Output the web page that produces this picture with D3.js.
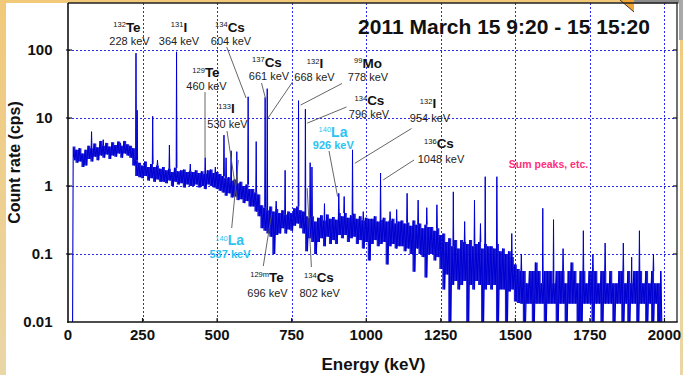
<!DOCTYPE html>
<html>
<head>
<meta charset="utf-8">
<script src="https://cdn.jsdelivr.net/npm/d3@7"></script>
<style>
  html, body { margin: 0; padding: 0; background: #fff; }
  svg { display: block; font-family: "Liberation Sans", Arial, Helvetica, sans-serif; }
</style>
</head>
<body>
<svg id="chart" width="683" height="375"></svg>
<script>
// ---- Gamma-ray spectrum, 2011 March 15 9:20 - 15 15:20 ----

// continuum, stored as per-bin max / min count rate (cps)
const binStart = 20;   // keV, centre of first bin
const binWidth = 10;   // keV per bin
const contHigh = [
  3.8, 3.4, 3.6, 3.0, 3.4, 3.9, 3.6, 4.2, 3.7, 4.6,
  3.9, 4.3, 3.8, 4.4, 4.0, 4.5, 3.9, 4.6, 4.1, 3.9,
  3.6, 2.4, 2.2, 2.0, 2.3, 1.9, 2.1, 1.9, 2.0, 1.8,
  1.9, 1.7, 1.8, 1.6, 1.85, 1.65, 1.7, 1.75, 1.6, 1.65,
  1.6, 1.7, 1.55, 1.65, 1.5, 1.7, 1.75, 1.55, 1.6, 1.5,
  1.4, 1.3, 1.35, 1.2, 1.25, 1.1, 1.15, 1.0, 1.05, 0.9,
  0.9, 0.8, 0.75, 0.52, 0.48, 0.44, 0.5, 0.42, 0.46, 0.4,
  0.44, 0.38, 0.42, 0.4, 0.47, 0.5, 0.44, 0.42, 0.36, 0.34,
  0.36, 0.3, 0.34, 0.37, 0.31, 0.38, 0.33, 0.35, 0.32, 0.4,
  0.36, 0.4, 0.34, 0.37, 0.39, 0.33, 0.36, 0.31, 0.34, 0.33,
  0.33, 0.36, 0.3, 0.32, 0.34, 0.3, 0.31, 0.33, 0.28, 0.3,
  0.31, 0.28, 0.29, 0.26, 0.31, 0.27, 0.28, 0.24, 0.27, 0.25,
  0.25, 0.22, 0.24, 0.19, 0.2, 0.15, 0.17, 0.13, 0.16, 0.12,
  0.16, 0.15, 0.14, 0.16, 0.13, 0.14, 0.15, 0.12, 0.14, 0.13,
  0.13, 0.12, 0.14, 0.11, 0.12, 0.1, 0.11, 0.09, 0.07, 0.06,
  0.056, 0.056, 0.037, 0.056, 0.056, 0.075, 0.056, 0.037, 0.056, 0.056,
  0.056, 0.037, 0.056, 0.056, 0.056, 0.037, 0.056, 0.075, 0.056, 0.037,
  0.056, 0.056, 0.037, 0.056, 0.056, 0.056, 0.037, 0.056, 0.056, 0.037,
  0.056, 0.037, 0.037, 0.056, 0.056, 0.037, 0.056, 0.037, 0.056, 0.056,
  0.056, 0.037, 0.056, 0.037, 0.056, 0.037, 0.037, 0.056
];
const contLow = [
  2.4, 2.2, 2.3, 1.9, 2.0, 2.5, 2.3, 2.7, 2.4, 2.8,
  2.6, 2.9, 2.5, 2.8, 2.7, 3.0, 2.6, 3.0, 2.8, 2.6,
  2.0, 1.4, 1.35, 1.3, 1.4, 1.2, 1.3, 1.15, 1.25, 1.15,
  1.15, 1.1, 1.2, 1.0, 1.15, 1.05, 1.1, 0.95, 1.05, 1.0,
  1.0, 1.05, 0.95, 1.0, 0.9, 1.05, 1.0, 0.95, 0.9, 0.85,
  0.8, 0.72, 0.78, 0.68, 0.7, 0.62, 0.64, 0.56, 0.6, 0.5,
  0.5, 0.42, 0.36, 0.24, 0.22, 0.2, 0.18, 0.1, 0.19, 0.2,
  0.24, 0.2, 0.23, 0.22, 0.26, 0.28, 0.24, 0.2, 0.11, 0.17,
  0.15, 0.1, 0.15, 0.17, 0.13, 0.18, 0.14, 0.16, 0.14, 0.19,
  0.17, 0.19, 0.15, 0.17, 0.18, 0.14, 0.16, 0.12, 0.15, 0.08,
  0.14, 0.16, 0.13, 0.14, 0.15, 0.07, 0.13, 0.14, 0.12, 0.13,
  0.13, 0.11, 0.12, 0.1, 0.055, 0.12, 0.1, 0.09, 0.045, 0.1,
  0.1, 0.08, 0.09, 0.06, 0.03, 0.05, 0.005, 0.035, 0.04, 0.03,
  0.035, 0.04, 0.005, 0.035, 0.03, 0.04, 0.035, 0.005, 0.03, 0.035,
  0.03, 0.035, 0.005, 0.03, 0.03, 0.005, 0.028, 0.03, 0.02, 0.019,
  0.0185, 0.005, 0.0185, 0.0185, 0.005, 0.0185, 0.0185, 0.0185, 0.005, 0.0185,
  0.0185, 0.0185, 0.005, 0.0185, 0.0185, 0.005, 0.0185, 0.0185, 0.0185, 0.005,
  0.005, 0.0185, 0.0185, 0.0185, 0.005, 0.0185, 0.0185, 0.005, 0.0185, 0.0185,
  0.0185, 0.005, 0.0185, 0.0185, 0.005, 0.0185, 0.005, 0.0185, 0.0185, 0.005,
  0.0185, 0.0185, 0.005, 0.0185, 0.005, 0.0185, 0.005, 0.005
];

// photo-peaks and sum peaks: energy (keV) and peak count rate (cps)
const peakEnergy = [79, 118, 176, 228, 232, 284, 300, 340, 364, 410, 460, 494, 523, 530, 547, 566,
  604, 631, 661, 668, 698, 728, 773, 796, 812, 818, 860, 908, 926, 954, 990, 1048, 1080,
  1102, 1137, 1174, 1203, 1237, 1292, 1330, 1363, 1383, 1399, 1438, 1488, 1520, 1592,
  1628, 1660, 1728, 1760, 1801, 1862, 1890, 1916, 1963];
const peakRate = [6.3, 4.8, 4.3, 90, 13, 10.6, 2.4, 4.0, 94, 2.1, 2.6, 1.9, 5.6, 2.6, 3.3, 3.2,
  20.5, 4.5, 20, 27, 0.6, 1.7, 18, 13.5, 2.2, 1.9, 0.55, 0.78, 0.7, 3.4, 0.42, 1.55, 0.42,
  0.45, 0.78, 0.62, 0.48, 0.53, 0.82, 0.3, 0.62, 0.28, 1.37, 1.37, 0.2, 0.1, 0.47,
  0.32, 0.12, 0.22, 0.1, 0.145, 0.145, 0.09, 0.22, 0.1];

// axes
const xTicks = [0, 250, 500, 750, 1000, 1250, 1500, 1750, 2000];
const yTicks = [0.01, 0.1, 1, 10, 100];
const yTickLabels = ["0.01", "0.1", "1", "10", "100"];

// nuclide annotations
const labelMass    = ["132", "131", "134", "129", "133", "137", "132", "99", "134", "140", "132", "136", "140", "129m", "134"];
const labelElement = ["Te", "I", "Cs", "Te", "I", "Cs", "I", "Mo", "Cs", "La", "I", "Cs", "La", "Te", "Cs"];
const labelEnergy  = [228, 364, 604, 460, 530, 661, 668, 778, 796, 926, 954, 1048, 537, 696, 802];
const labelIsLa    = [false, false, false, false, false, false, false, false, false, true, false, false, true, false, false];
// where each leader line ends (keV, cps)
const leaderEnergy = [null, null, 597, 459.5, 568, 663, 670, 780, 802, 904, 962, 1057, 571, 683, 802];
const leaderRate   = [null, null, 19.7, 2.58, 0.62, 18.8, 9.9, 15.5, 8.4, 0.7, 2.16, 1.23, 2.41, 0.4, 0.93];

// annotation placement (px)
const labelLayout = [
  { nx: 127,   ny: 31.5,  ex: 129.5, ey: 45 },
  { nx: 179,   ny: 31.5,  ex: 179,   ey: 45 },
  { nx: 230,   ny: 31.5,  ex: 231,   ey: 45,    lx: 226.7, ly: 47 },
  { nx: 206,   ny: 77,    ex: 206.5, ey: 90,    lx: 205,   ly: 92 },
  { nx: 226.5, ny: 113,   ex: 227.5, ey: 128,   lx: 227,   ly: 131 },
  { nx: 267,   ny: 66.5,  ex: 269,   ey: 80,    lx: 261.5, ly: 83 },
  { nx: 315,   ny: 68,    ex: 314.5, ey: 80.5,  lx: 292.5, ly: 82 },
  { nx: 368,   ny: 67.5,  ex: 368,   ey: 80.5,  lx: 342,   ly: 83.5 },
  { nx: 369.5, ny: 105,   ex: 369,   ey: 118,   lx: 346.5, ly: 107 },
  { nx: 333,   ny: 136.5, ex: 333.3, ey: 149,   lx: 329,   ly: 151 },
  { nx: 428,   ny: 108,   ex: 430,   ey: 122,   lx: 411.5, ly: 128.5 },
  { nx: 439,   ny: 148,   ex: 441,   ey: 163,   lx: 414,   ly: 160 },
  { nx: 229.7, ny: 245,   ex: 230,   ey: 258,   lx: 231.7, ly: 228 },
  { nx: 267,   ny: 281.5, ex: 267.5, ey: 296.5, lx: 263.3, ly: 266 },
  { nx: 319,   ny: 282,   ex: 319.7, ey: 297,   lx: 311.4, ly: 267 }
];

// ---- drawing ----
const svg = d3.select("#chart");
const W = 683, H = 375;
const plot = { left: 68, right: 677, top: 3, bottom: 322 };

const x = d3.scaleLinear().domain([0, 2042]).range([plot.left, plot.right]);
const y = d3.scaleLog().domain([0.01, 491]).range([plot.bottom, plot.top]);

const defs = svg.append("defs");
const bg = defs.append("linearGradient").attr("id", "slideBg")
  .attr("x1", 0).attr("y1", 0).attr("x2", 0).attr("y2", 1);
bg.append("stop").attr("offset", "0%").attr("stop-color", "#f1c979");
bg.append("stop").attr("offset", "100%").attr("stop-color", "#ead6a6");
defs.append("clipPath").attr("id", "plotClip").append("rect")
  .attr("x", plot.left).attr("y", plot.top)
  .attr("width", plot.right - plot.left).attr("height", plot.bottom - plot.top);

// slide background and white panel
svg.append("rect").attr("width", W).attr("height", H).attr("fill", "url(#slideBg)");
svg.append("rect").attr("x", 6).attr("y", 3).attr("width", 674).attr("height", H - 3).attr("fill", "#fff");
svg.append("rect").attr("x", 633).attr("y", 0).attr("width", 50).attr("height", 3.5).attr("fill", "#8c8c8c");
svg.append("rect").attr("x", 679).attr("y", 0).attr("width", 4).attr("height", 40).attr("fill", "#a8a8a8");
svg.append("path").attr("d", "M620,0 L634,0 L634,12 Z").attr("fill", "#f2a534");
svg.append("path").attr("d", "M620,0 L634,12").attr("stroke", "#3a3a3a").attr("stroke-width", 1).attr("fill", "none");

// grid
const grid = svg.append("g").attr("stroke", "#2a2aee").attr("stroke-width", 1)
  .attr("stroke-dasharray", "2,2").attr("fill", "none");
grid.selectAll("line.vx").data(xTicks.filter(d => d > 0)).join("line")
  .attr("x1", d => Math.round(x(d)) + 0.5).attr("x2", d => Math.round(x(d)) + 0.5)
  .attr("y1", plot.top).attr("y2", plot.bottom);
grid.selectAll("line.hy").data(yTicks.filter(d => d > 0.01)).join("line")
  .attr("y1", d => Math.round(y(d)) + 0.5).attr("y2", d => Math.round(y(d)) + 0.5)
  .attr("x1", plot.left).attr("x2", plot.right);

// spectrum: dense core band, ragged min/max trace, then peaks
const spec = svg.append("g").attr("clip-path", "url(#plotClip)");
const bins = contHigh.map((h, i) => ({ e: binStart + i * binWidth, hi: h, lo: contLow[i] }));

const band = d3.area()
  .x(d => x(d.e)).y0(d => y(d.lo)).y1(d => y(d.hi))
  .curve(d3.curveStep);
spec.append("path").attr("d", band(bins))
  .attr("fill", "#0000d2").attr("fill-opacity", 0.88).attr("stroke", "none");

const pts = [[15, 0.004]];
bins.forEach(b => {
  pts.push([b.e - 2.5, b.hi]);
  pts.push([b.e + 2.5, b.lo]);
});
pts.push([1995, 0.004]);
const line = d3.line().x(d => x(d[0])).y(d => y(d[1]));
spec.append("path").attr("d", line(pts))
  .attr("fill", "none").attr("stroke", "#0000d2").attr("stroke-width", 1.1)
  .attr("stroke-linejoin", "miter");

const baseAt = e => {
  const i = Math.max(0, Math.min(bins.length - 1, Math.round((e - binStart) / binWidth)));
  return bins[i].hi;
};
spec.selectAll("path.peak").data(peakEnergy).join("path")
  .attr("class", "peak")
  .attr("d", (e, i) => line([[e - 1.3, baseAt(e)], [e, peakRate[i]], [e + 1.3, baseAt(e)]]))
  .attr("fill", "#0000d2").attr("stroke", "#0000d2").attr("stroke-width", 1);

// frame
const frame = svg.append("g").attr("fill", "none");
frame.append("line").attr("x1", plot.left).attr("x2", plot.right + 1).attr("y1", plot.top).attr("y2", plot.top)
  .attr("stroke", "#222").attr("stroke-width", 1.6);
frame.append("line").attr("x1", plot.right).attr("x2", plot.right).attr("y1", plot.top).attr("y2", plot.bottom)
  .attr("stroke", "#333").attr("stroke-width", 1.4);
frame.append("line").attr("x1", plot.left).attr("x2", plot.left).attr("y1", plot.top).attr("y2", plot.bottom + 0.8)
  .attr("stroke", "#111").attr("stroke-width", 1.6);
frame.append("line").attr("x1", plot.left - 0.8).attr("x2", plot.right + 0.7).attr("y1", plot.bottom).attr("y2", plot.bottom)
  .attr("stroke", "#111").attr("stroke-width", 1.6);

// ticks
const tickG = svg.append("g").attr("stroke", "#111").attr("stroke-width", 1.2);
tickG.selectAll("line.yl").data(yTicks.filter(d => d > 0.01)).join("line")
  .attr("x1", plot.left - 2).attr("x2", plot.left + 4)
  .attr("y1", d => y(d)).attr("y2", d => y(d));
tickG.selectAll("line.yr").data(yTicks.filter(d => d > 0.01)).join("line")
  .attr("x1", plot.right - 4).attr("x2", plot.right)
  .attr("y1", d => y(d)).attr("y2", d => y(d));
tickG.selectAll("line.xb").data(xTicks.filter(d => d > 0)).join("line")
  .attr("x1", d => x(d)).attr("x2", d => x(d))
  .attr("y1", plot.bottom - 4).attr("y2", plot.bottom);

// tick labels
svg.append("g").selectAll("text").data(yTicks).join("text")
  .attr("x", 52.5).attr("y", d => y(d) + 5.4)
  .attr("text-anchor", "end").attr("font-size", 15).attr("font-weight", "bold").attr("fill", "#111")
  .text((d, i) => yTickLabels[i]);
svg.append("g").selectAll("text").data(xTicks).join("text")
  .attr("x", d => x(d)).attr("y", 340)
  .attr("text-anchor", "middle").attr("font-size", 15).attr("font-weight", "bold").attr("fill", "#111")
  .text(d => d);

// axis titles
svg.append("text").attr("transform", "translate(20,162.5) rotate(-90)")
  .attr("text-anchor", "middle").attr("font-size", 16).attr("font-weight", "bold").attr("fill", "#111")
  .text("Count rate (cps)");
svg.append("text").attr("x", 373.5).attr("y", 370)
  .attr("text-anchor", "middle").attr("font-size", 17).attr("font-weight", "bold").attr("fill", "#111")
  .text("Energy (keV)");

// title
svg.append("text").attr("x", 504).attr("y", 34)
  .attr("text-anchor", "middle").attr("font-size", 21).attr("font-weight", "bold").attr("fill", "#111")
  .text("2011 March 15 9:20 - 15 15:20");

// nuclide annotations
const ann = svg.append("g");
labelLayout.forEach((L, i) => {
  const color = labelIsLa[i] ? "#2cc3f3" : "#111";
  if (leaderEnergy[i] !== null) {
    ann.append("line")
      .attr("x1", L.lx).attr("y1", L.ly)
      .attr("x2", x(leaderEnergy[i])).attr("y2", y(leaderRate[i]))
      .attr("stroke", "#555").attr("stroke-width", 0.9);
  }
  const t = ann.append("text").attr("x", L.nx).attr("y", L.ny)
    .attr("text-anchor", "middle").attr("fill", color);
  t.append("tspan").attr("font-size", 7.5).attr("dy", -4.5).text(labelMass[i]);
  t.append("tspan").attr("font-size", labelIsLa[i] ? 14 : 13.5).attr("font-weight", "bold")
    .attr("dy", 4.5).text(labelElement[i]);
  ann.append("text").attr("x", L.ex).attr("y", L.ey)
    .attr("text-anchor", "middle").attr("fill", labelIsLa[i] ? "#2cc3f3" : "#222")
    .attr("font-size", 11).attr("font-weight", labelIsLa[i] ? "bold" : "normal")
    .text(labelEnergy[i] + " keV");
});

ann.append("text").attr("x", 548.5).attr("y", 168)
  .attr("text-anchor", "middle").attr("fill", "#ff2f7b")
  .attr("font-size", 10.5).attr("font-weight", "bold")
  .text("Sum peaks, etc.");
</script>
</body>
</html>
